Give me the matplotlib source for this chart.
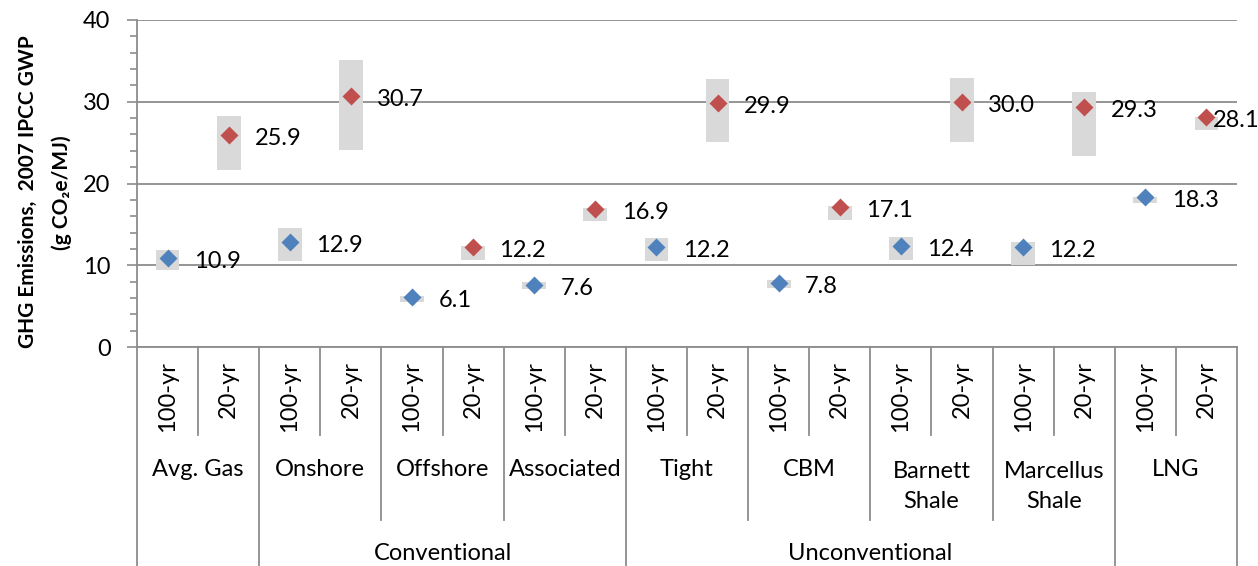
import matplotlib
matplotlib.use("Agg")
import matplotlib.pyplot as plt
from matplotlib.transforms import blended_transform_factory

plt.rcParams['font.family'] = ['Lato', 'DejaVu Sans']

# data
groups = ['Avg. Gas', 'Onshore', 'Offshore', 'Associated', 'Tight', 'CBM',
          'Barnett\nShale', 'Marcellus\nShale', 'LNG']
supergroups = ['', 'Conventional', 'Unconventional', '']
supergroup_sizes = [1, 3, 4, 1]
gwp_labels = ['100-yr', '20-yr']

vals_100 = [10.9, 12.9, 6.1, 7.6, 12.2, 7.8, 12.4, 12.2, 18.3]
vals_20 = [25.9, 30.7, 12.2, 16.9, 29.9, 17.1, 30.0, 29.3, 28.1]
low_100 = [9.4, 10.5, 5.5, 7.1, 10.5, 7.2, 10.6, 10.0, 17.6]
high_100 = [11.9, 14.5, 6.2, 7.9, 13.3, 8.2, 13.5, 12.8, 18.4]
low_20 = [21.6, 24.1, 10.7, 15.4, 25.1, 15.5, 25.1, 23.4, 26.5]
high_20 = [28.3, 35.1, 12.4, 17.0, 32.8, 17.2, 32.9, 31.2, 28.1]

W, H = 1258, 566
fig = plt.figure(figsize=(W / 100, H / 100), dpi=100)
ax = fig.add_axes([137 / W, 1 - 347 / H, 1100 / W, 327 / H])

GRAY = '#8c8c8c'
BOX = '#d9d9d9'
BLUE = '#4f81bd'
RED = '#c0504d'
FS = 17

x100 = [2 * i for i in range(len(groups))]
x20 = [2 * i + 1 for i in range(len(groups))]

# range boxes
ax.bar(x100, [h - l for l, h in zip(low_100, high_100)], bottom=low_100,
       width=0.39, color=BOX, zorder=2)
ax.bar(x20, [h - l for l, h in zip(low_20, high_20)], bottom=low_20,
       width=0.39, color=BOX, zorder=2)

# diamonds
ax.plot(x100, vals_100, 'D', color=BLUE, ms=9.5, mec='none', zorder=3)
ax.plot(x20, vals_20, 'D', color=RED, ms=9.5, mec='none', zorder=3)

# value labels
for xs, vs in [(x100, vals_100), (x20, vals_20)]:
    for x, v in zip(xs, vs):
        dx = 19 if x < 17 else 4.5
        ax.annotate(f'{v:.1f}', (x, v), xytext=(dx, -2.5), textcoords='offset points',
                    ha='left', va='center', fontsize=FS, zorder=4,
                    annotation_clip=False)

ax.set_xlim(-0.5, 2 * len(groups) - 0.5)
ax.set_ylim(0, 40)
ax.set_yticks(range(0, 41, 10))
ax.set_yticks(range(0, 41, 2), minor=True)
ax.yaxis.grid(True, color=GRAY, lw=1.3, zorder=1)
ax.set_axisbelow(True)
ax.set_xticks([])
ax.tick_params(axis='y', which='major', direction='out', length=7, width=1.2,
               color=GRAY, labelsize=FS, pad=12)
ax.tick_params(axis='y', which='minor', direction='out', length=5, width=1.2,
               color=GRAY)
for s in ['top', 'right']:
    ax.spines[s].set_visible(False)
for s in ['left', 'bottom']:
    ax.spines[s].set_color(GRAY)
    ax.spines[s].set_linewidth(1.3)

# category table below the axis
tr = blended_transform_factory(ax.transData, fig.transFigure)
fy = lambda p: 1 - p / H

def vline(x, y_end):
    ax.plot([x, x], [fy(347), fy(y_end)], color=GRAY, lw=1.3, transform=tr,
            clip_on=False)

# short lines between 100-yr / 20-yr
for i in range(len(groups)):
    vline(2 * i + 0.5, 435)

# group and supergroup borders
bounds = [0]
for n in supergroup_sizes:
    bounds.append(bounds[-1] + n)
for g in range(len(groups) + 1):
    vline(2 * g - 0.5, 566 if g in bounds else 520)

# 100-yr / 20-yr labels
for i in range(len(groups)):
    for k, lab in enumerate(gwp_labels):
        ax.text(2 * i + k, fy(361), lab, transform=tr, rotation=90,
                ha='center', va='top', fontsize=FS)

# subgroup labels
for i, g in enumerate(groups):
    n = g.count('\n')
    ax.text(2 * i + 0.5, fy(470 + n * 16.5), g, transform=tr, ha='center',
            va='center', fontsize=FS, linespacing=1.55)

# supergroup labels
for j, sg in enumerate(supergroups):
    if sg:
        xc = (2 * bounds[j] - 0.5 + 2 * bounds[j + 1] - 0.5) / 2
        ax.text(xc, fy(553), sg, transform=tr, ha='center', va='center',
                fontsize=FS)

# y-axis title
fig.text(28 / W, fy(192), 'GHG Emissions,  2007 IPCC GWP', rotation=90,
         ha='center', va='center', fontsize=15, fontweight='bold')
fig.text(62 / W, fy(193), '(g CO\u2082e/MJ)', rotation=90,
         ha='center', va='center', fontsize=15, fontweight='bold')

fig.savefig('out.png', dpi=100)
